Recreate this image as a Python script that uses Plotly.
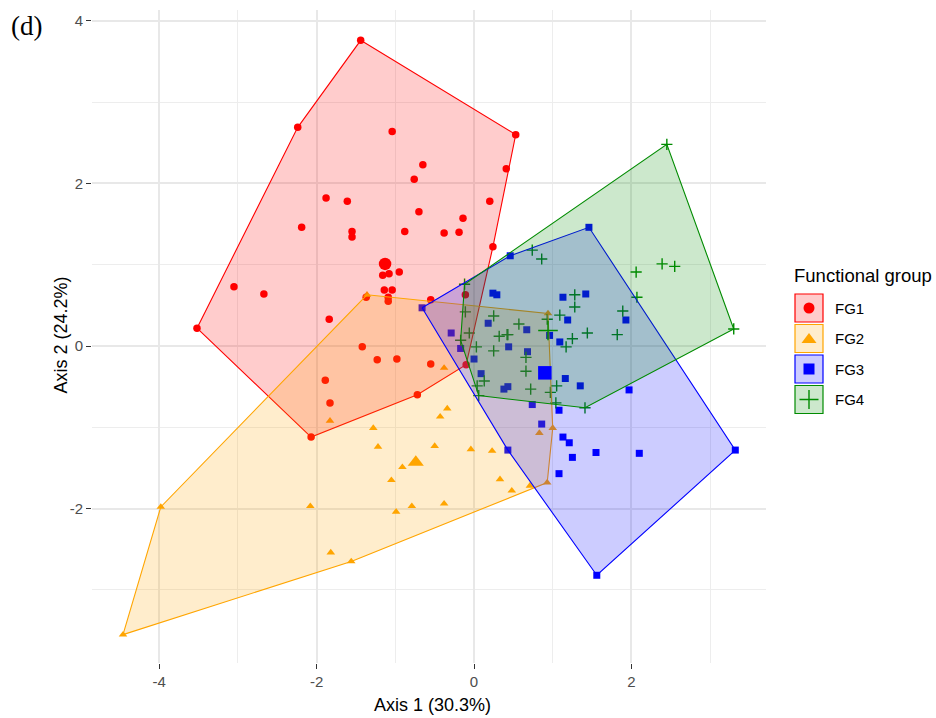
import plotly.graph_objects as go

# ---- data -----------------------------------------------------------------
groups = ["FG1", "FG2", "FG3", "FG4"]

fg1_x = [-1.44, -2.24, 0.53, -1.04, -0.65, -0.76, 0.41, -1.88, -1.61, -0.70,
         0.20, -2.19, -1.55, -1.55, -0.88, -0.38, -0.19, -0.14, 0.24, -1.16,
         -1.08, -0.95, -3.05, -2.67, -1.14, -1.04, -1.09, -1.09, -1.37, -1.84,
         -3.52, -1.42, -1.23, -0.98, -1.89, -1.83, -2.07, -0.72, -0.55, -0.55,
         -0.11, -0.10]
fg1_y = [3.76, 2.69, 2.60, 2.64, 2.23, 2.05, 2.18, 1.82, 1.78, 1.65,
         1.78, 1.46, 1.41, 1.34, 1.41, 1.39, 1.40, 1.57, 1.22, 0.87,
         0.89, 0.91, 0.73, 0.64, 0.69, 0.69, 0.60, 0.55, 0.60, 0.33,
         0.22, -0.01, -0.17, -0.16, -0.42, -0.70, -1.12, -0.60, 0.57, -0.22,
         0.63, -0.23]

fg2_x = [-4.46, -3.98, -2.08, -1.82, -1.56, -1.83, -1.28, -1.22, -1.05, -0.99,
         -0.91, -0.79, -0.38, -0.50, -0.04, -0.43, -0.34, 0.23, 0.33, 0.48,
         0.71, 0.93, 0.83, 1.00, -0.38, 0.94, -1.36]
fg2_y = [-3.55, -1.98, -1.97, -2.54, -2.65, -0.92, -1.01, -1.24, -1.65, -2.04,
         -1.49, -1.97, -1.94, -1.23, -1.27, -0.87, -0.77, -1.29, -1.64, -1.78,
         -1.72, -1.68, -1.07, -1.01, -0.27, 0.40, 0.63]

fg3_x = [1.56, 3.32, 0.43, 1.08, 1.25, 1.55, 2.10, 1.13, 1.21, 0.86,
         1.08, 0.74, 1.97, 1.35, 0.38, 0.43, 1.46, 1.13, 1.42, 1.19,
         1.93, 0.67, 0.96, 1.09, 0.68, 1.16, 0.46, -0.66, 0.24, 0.29,
         -0.29, -0.17, 0.18, 0.44, 0.00, 0.09]
fg3_y = [-2.82, -1.28, -1.28, -1.57, -1.37, -1.31, -1.32, -1.12, -1.19, -0.96,
         -0.79, -0.72, -0.54, -0.49, -0.53, -0.50, 1.46, 0.60, 0.64, 0.32,
         0.32, 0.20, 0.13, 0.05, -0.07, -0.40, 1.11, 0.47, 0.65, 0.63,
         0.16, -0.03, 0.28, -0.01, -0.16, -0.34]

fg4_x = [2.45, 3.30, 2.06, 2.39, 2.55, 2.07, 1.28, 1.28, 1.89, 1.44,
         1.82, 1.25, 1.17, 0.74, 0.86, 1.09, 0.93, 0.66, 0.66, 0.72,
         1.05, 0.97, 1.04, 1.41, -0.12, -0.11, -0.06, -0.17, 0.03, 0.25,
         0.25, 0.32, 0.42, 0.43, 0.57, 0.13, 0.04, 0.06]
fg4_y = [2.48, 0.21, 0.91, 1.01, 0.98, 0.60, 0.63, 0.48, 0.43, 0.16,
         0.14, 0.09, -0.01, 1.18, 1.07, 0.38, 0.33, -0.14, -0.31, -0.53,
         -0.49, -0.57, -0.70, -0.76, 0.76, 0.42, 0.16, 0.07, -0.01, 0.37,
         -0.06, 0.12, 0.14, 0.14, 0.27, -0.43, -0.49, -0.61]

# group centroids
centroid_x = [-1.13, -0.74, 0.90, 0.94]
centroid_y = [1.01, -1.43, -0.33, 0.19]

x_ticks = [-4, -2, 0, 2]
y_ticks = [-2, 0, 2, 4]

x_title = "Axis 1 (30.3%)"
y_title = "Axis 2 (24.2%)"
legend_title = "Functional group"
panel_tag = "(d)"

# ---- styling ----------------------------------------------------------------
W, H = 936, 718
PANEL = dict(left=92, right=766, top=10, bottom=663)
X_RANGE = [-4.854, 3.710]
Y_RANGE = [-3.899, 4.133]

colors = ["#FF0000", "#FFA500", "#0000FF", "#008B00"]
fills = ["rgba(255,0,0,0.2)", "rgba(255,165,0,0.2)",
         "rgba(0,0,255,0.2)", "rgba(0,139,0,0.2)"]
symbols = ["circle", "triangle-up", "square", "cross-thin"]
point_sizes = [7.5, 7.5, 7, 8]
centroid_sizes = [12.5, 14, 13.5, 14]

FONT = "Liberation Sans, Arial, sans-serif"

xs_all = [fg1_x, fg2_x, fg3_x, fg4_x]
ys_all = [fg1_y, fg2_y, fg3_y, fg4_y]


def convex_hull(xs, ys):
    pts = sorted(set(zip(xs, ys)))

    def cross(o, a, b):
        return (a[0] - o[0]) * (b[1] - o[1]) - (a[1] - o[1]) * (b[0] - o[0])

    lower = []
    for p in pts:
        while len(lower) >= 2 and cross(lower[-2], lower[-1], p) <= 0:
            lower.pop()
        lower.append(p)
    upper = []
    for p in reversed(pts):
        while len(upper) >= 2 and cross(upper[-2], upper[-1], p) <= 0:
            upper.pop()
        upper.append(p)
    hull = lower[:-1] + upper[:-1]
    hull.append(hull[0])
    return [p[0] for p in hull], [p[1] for p in hull]


def marker_style(i, size):
    if symbols[i] == "cross-thin":
        return dict(symbol=symbols[i], size=size, color=colors[i],
                    line=dict(color=colors[i], width=1.4))
    return dict(symbol=symbols[i], size=size, color=colors[i],
                line=dict(width=0))


fig = go.Figure()

# points first, hulls drawn over them, centroids on top
for i, g in enumerate(groups):
    fig.add_trace(go.Scatter(x=xs_all[i], y=ys_all[i], mode="markers",
                             name=g, showlegend=False,
                             marker=marker_style(i, point_sizes[i])))

for i, g in enumerate(groups):
    hx, hy = convex_hull(xs_all[i], ys_all[i])
    fig.add_trace(go.Scatter(x=hx, y=hy, mode="lines", fill="toself",
                             fillcolor=fills[i], name=g, showlegend=False,
                             line=dict(color=colors[i], width=1.1)))

for i, g in enumerate(groups):
    fig.add_trace(go.Scatter(x=[centroid_x[i]], y=[centroid_y[i]],
                             mode="markers", name=g, showlegend=False,
                             marker=marker_style(i, centroid_sizes[i])))

axis_common = dict(
    showline=False, zeroline=False, showgrid=True,
    gridcolor="#E8E8E8", gridwidth=1.6,
    ticks="outside", ticklen=5, tickwidth=1.1, tickcolor="#333333",
    tickfont=dict(family=FONT, size=15, color="#4D4D4D"),
    automargin=False, fixedrange=True,
)

fig.update_layout(
    width=W, height=H,
    margin=dict(l=0, r=0, t=0, b=0),
    paper_bgcolor="white", plot_bgcolor="white",
    template="none",
    showlegend=False,
    xaxis=dict(domain=[PANEL["left"] / W, PANEL["right"] / W],
               range=X_RANGE, tickvals=x_ticks,
               ticktext=[str(v) for v in x_ticks],
               minor=dict(dtick=1, tick0=0, showgrid=True,
                          gridcolor="#EDEDED", gridwidth=1.2),
               **axis_common),
    yaxis=dict(domain=[1 - PANEL["bottom"] / H, 1 - PANEL["top"] / H],
               range=Y_RANGE, tickvals=y_ticks,
               ticktext=[str(v) for v in y_ticks],
               minor=dict(dtick=1, tick0=0, showgrid=True,
                          gridcolor="#EDEDED", gridwidth=1.2),
               **axis_common),
)


def px(x):
    return x / W


def py(y):
    return 1 - y / H


def note(text, x, y, size, **kw):
    base = dict(text=text, x=px(x), y=py(y), xref="paper", yref="paper",
                showarrow=False, xanchor="left", yanchor="middle",
                font=dict(family=FONT, size=size, color="black"))
    base.update(kw)
    return base


annotations = [
    note(panel_tag, 9, 9, 27, yanchor="top",
         font=dict(family="Liberation Serif, Times New Roman, serif",
                   size=27, color="black")),
    note(x_title, 432, 705, 18, xanchor="center"),
    note(y_title, 60, (PANEL["top"] + PANEL["bottom"]) / 2 - 2, 18,
         xanchor="center", textangle=-90),
    note(legend_title, 792, 275, 18.5),
]

# legend keys: filled box with border and the group's symbol
shapes = []
key = 28
for i, g in enumerate(groups):
    x0 = 795
    y0 = 294 + i * 30.5
    cx, cy = x0 + key / 2, y0 + key / 2
    shapes.append(dict(type="rect", xref="paper", yref="paper",
                       x0=px(x0), x1=px(x0 + key), y0=py(y0), y1=py(y0 + key),
                       fillcolor=fills[i], line=dict(color=colors[i], width=1.2)))
    if symbols[i] == "circle":
        r = 5.5
        shapes.append(dict(type="circle", xref="paper", yref="paper",
                           x0=px(cx - r), x1=px(cx + r), y0=py(cy - r), y1=py(cy + r),
                           fillcolor=colors[i], line=dict(width=0)))
    elif symbols[i] == "triangle-up":
        a = 7.5
        path = (f"M {px(cx - a)},{py(cy + a * 0.6)} L {px(cx + a)},{py(cy + a * 0.6)} "
                f"L {px(cx)},{py(cy - a * 0.75)} Z")
        shapes.append(dict(type="path", xref="paper", yref="paper", path=path,
                           fillcolor=colors[i], line=dict(width=0)))
    elif symbols[i] == "square":
        a = 5.5
        shapes.append(dict(type="rect", xref="paper", yref="paper",
                           x0=px(cx - a), x1=px(cx + a), y0=py(cy - a), y1=py(cy + a),
                           fillcolor=colors[i], line=dict(width=0)))
    else:
        a = 9.5
        path = (f"M {px(cx - a)},{py(cy)} L {px(cx + a)},{py(cy)} "
                f"M {px(cx)},{py(cy - a)} L {px(cx)},{py(cy + a)}")
        shapes.append(dict(type="path", xref="paper", yref="paper", path=path,
                           line=dict(color=colors[i], width=1.4)))
    annotations.append(note(g, 833, cy, 15))

fig.update_layout(annotations=annotations, shapes=shapes)

fig.write_html("out.html")
